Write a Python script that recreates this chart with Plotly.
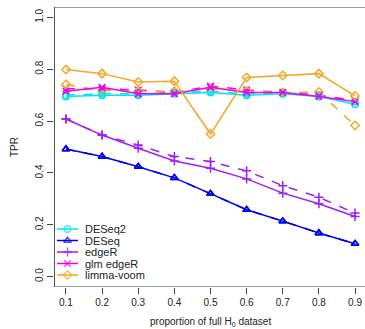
import plotly.graph_objects as go

proportion = [0.1, 0.2, 0.3, 0.4, 0.5, 0.6, 0.7, 0.8, 0.9]
methods = ["DESeq2", "DESeq", "edgeR", "glm edgeR", "limma-voom"]

# solid lines
deseq2_a = [0.695, 0.700, 0.700, 0.705, 0.710, 0.700, 0.705, 0.695, 0.665]
deseq_a = [0.492, 0.463, 0.424, 0.381, 0.320, 0.258, 0.214, 0.168, 0.127]
edger_a = [0.608, 0.546, 0.495, 0.446, 0.418, 0.377, 0.322, 0.281, 0.232]
glmedger_a = [0.715, 0.730, 0.705, 0.705, 0.730, 0.710, 0.710, 0.695, 0.675]
limma_a = [0.799, 0.783, 0.751, 0.754, 0.550, 0.768, 0.776, 0.783, 0.697]

# dashed lines
deseq2_b = [0.700, 0.705, 0.705, 0.710, 0.715, 0.705, 0.710, 0.700, 0.675]
deseq_b = [0.492, 0.463, 0.424, 0.381, 0.320, 0.258, 0.214, 0.168, 0.127]
edger_b = [0.608, 0.546, 0.508, 0.463, 0.444, 0.408, 0.351, 0.306, 0.245]
glmedger_b = [0.725, 0.725, 0.720, 0.710, 0.735, 0.720, 0.710, 0.700, 0.680]
limma_b = [0.741, 0.718, 0.715, 0.715, 0.725, 0.715, 0.710, 0.712, 0.583]

y_ticks = [0.0, 0.2, 0.4, 0.6, 0.8, 1.0]

colors = ["#00E5EE", "#0000EE", "#A020F0", "#EE00EE", "#F5A623"]
symbols = ["circle-open", "triangle-up-open", "cross-thin-open", "x-thin-open", "diamond-open"]
solid = [deseq2_a, deseq_a, edger_a, glmedger_a, limma_a]
dashed = [deseq2_b, deseq_b, edger_b, glmedger_b, limma_b]

W, H = 365, 329
ML, MR, MT, MB = 54, 0, 7, 42
PW, PH = W - ML - MR, H - MT - MB

fig = go.Figure()
for name, col, sym, ya, yb in zip(methods, colors, symbols, solid, dashed):
    fig.add_trace(go.Scatter(
        x=proportion, y=yb, mode="lines+markers", name=name, showlegend=False,
        line=dict(color=col, width=1.5, dash="dash"),
        marker=dict(symbol=sym, size=6.5, color=col, line=dict(color=col, width=1.5)),
    ))
for name, col, sym, ya, yb in zip(methods, colors, symbols, solid, dashed):
    fig.add_trace(go.Scatter(
        x=proportion, y=ya, mode="lines+markers", name=name, showlegend=False,
        line=dict(color=col, width=1.5),
        marker=dict(symbol=sym, size=6.5, color=col, line=dict(color=col, width=1.5)),
    ))

# custom compact legend on an overlay axis measured in pixels from plot's top-left
font = "Liberation Sans, Arial, sans-serif"
leg_x0, leg_x1, leg_text_x = 3, 24, 29
leg_top, leg_step = 222, 11.5
annotations = []
for i, (name, col, sym) in enumerate(zip(methods, colors, symbols)):
    yy = leg_top + i * leg_step
    fig.add_trace(go.Scatter(
        x=[leg_x0, (leg_x0 + leg_x1) / 2, leg_x1], y=[yy, yy, yy],
        xaxis="x2", yaxis="y2", mode="lines+markers", showlegend=False, hoverinfo="skip",
        line=dict(color=col, width=1.5),
        marker=dict(symbol=sym, size=[0, 6.5, 0], color=col, line=dict(color=col, width=1.5)),
    ))
    annotations.append(dict(x=leg_text_x, y=yy, xref="x2", yref="y2", text=name,
                            showarrow=False, xanchor="left", yanchor="middle",
                            font=dict(size=11, color="#222", family=font)))

annotations.append(dict(x=(210 - ML) / PW, y=0, xref="paper", yref="paper", yshift=-35,
                        text="proportion of full H<sub>0</sub> dataset", showarrow=False,
                        xanchor="center", yanchor="middle", font=dict(size=10, color="#222")))
annotations.append(dict(x=0, y=0.5, xref="paper", yref="paper", xshift=-40,
                        text="TPR", textangle=-90, showarrow=False,
                        xanchor="center", yanchor="middle", font=dict(size=10, color="#222")))

fig.update_layout(
    width=W, height=H,
    margin=dict(l=ML, r=MR, t=MT, b=MB, autoexpand=False),
    paper_bgcolor="white", plot_bgcolor="white",
    font=dict(family=font, size=10, color="#222"),
    showlegend=False,
    xaxis=dict(range=[0.0669, 0.9276], tickvals=proportion,
               ticktext=[f"{v:.1f}" for v in proportion],
               ticks="outside", ticklen=6, tickcolor="#444", automargin=False,
               showgrid=False, zeroline=False, showline=False),
    yaxis=dict(range=[-0.04, 1.04], tickvals=y_ticks,
               ticktext=[f"{v:.1f}" for v in y_ticks], tickangle=-90,
               ticks="outside", ticklen=6, tickcolor="#444", automargin=False,
               showgrid=False, zeroline=False, showline=False),
    xaxis2=dict(range=[0, PW], overlaying="x", visible=False, fixedrange=True),
    yaxis2=dict(range=[PH, 0], overlaying="y", visible=False, fixedrange=True),
    annotations=annotations,
    shapes=[dict(type="rect", xref="x", yref="y", x0=0.068, x1=0.932, y0=-0.04, y1=1.04,
                 line=dict(color="#444", width=1))],
)
fig.write_html("out.html", config={"displayModeBar": False},
               post_script="document.body.style.margin='0';")
